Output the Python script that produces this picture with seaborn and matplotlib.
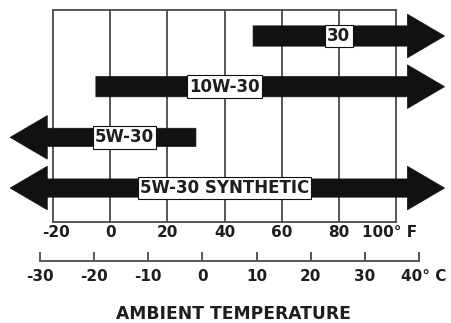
import matplotlib
matplotlib.use("Agg")
import matplotlib.pyplot as plt
import matplotlib.transforms as mtransforms
from matplotlib.patches import Polygon
import seaborn as sns

# ---- data ----
grades = ["30", "10W-30", "5W-30", "5W-30 SYNTHETIC"]
range_low_f = [50, -5, -35, -35]      # left end of each arrow (deg F)
range_high_f = [117, 117, 30, 117]    # right end of each arrow (deg F)
open_low = [False, False, True, True]  # arrow head on the left
open_high = [True, True, False, True]  # arrow head on the right
f_ticks = [-20, 0, 20, 40, 60, 80, 100]
f_labels = ["-20", "0", "20", "40", "60", "80", "100° F"]
c_ticks = [-30, -20, -10, 0, 10, 20, 30, 40]
c_labels = ["-30", "-20", "-10", "0", "10", "20", "30", "40° C"]
x_title = "AMBIENT TEMPERATURE"

# ---- style ----
sns.set_theme(style="white")
plt.rcParams["font.family"] = ["DejaVu Sans"]
plt.rcParams["font.weight"] = "bold"

W, H = 451, 323
fig = plt.figure(figsize=(W / 100, H / 100), dpi=100)
fig.patch.set_facecolor("white")

line_c = "#4a4a4a"
bar_c = "#111111"
text_c = "#1e1e1e"

# main axes (deg F)
ax = fig.add_axes([53 / W, (H - 222) / H, (396 - 53) / W, (222 - 10) / H])
ax.set_xlim(-20, 100)
ax.set_ylim(3.67, -0.513)
ax.set_facecolor("white")
for s in ax.spines.values():
    s.set_visible(True)
    s.set_color(line_c)
    s.set_linewidth(1.3)
for t in f_ticks[1:-1]:
    ax.axvline(t, color=line_c, lw=1.3, zorder=1)

ax.set_yticks([])
ax.set_xticks(f_ticks)
ax.set_xticklabels(f_labels, fontsize=11, fontweight="bold", color=text_c)
ax.tick_params(axis="x", length=0, pad=2.5)
lbls = ax.get_xticklabels()
lbls[-1].set_transform(lbls[-1].get_transform() +
                       mtransforms.ScaledTranslation(-6 / 100, 0, fig.dpi_scale_trans))
lbls[0].set_transform(lbls[0].get_transform() +
                      mtransforms.ScaledTranslation(3 / 100, 0, fig.dpi_scale_trans))

head_len = 13.0
bar_h = [0.40, 0.40, 0.36, 0.36]
head_h = 0.86
label_x = [80, 40, 5, 40]

for i, g in enumerate(grades):
    lo, hi = range_low_f[i], range_high_f[i]
    hb = bar_h[i] / 2
    hh = head_h / 2
    if open_low[i]:
        bl = lo + head_len
        left_pts = [(bl, i - hb), (bl, i - hh), (lo, i), (bl, i + hh), (bl, i + hb)]
    else:
        left_pts = [(lo, i - hb), (lo, i + hb)]
    if open_high[i]:
        br = hi - head_len
        right_pts = [(br, i + hb), (br, i + hh), (hi, i), (br, i - hh), (br, i - hb)]
    else:
        right_pts = [(hi, i + hb), (hi, i - hb)]
    pts = left_pts + right_pts
    poly = Polygon(pts, closed=True, facecolor=bar_c, edgecolor=bar_c, lw=0.5,
                   clip_on=False, zorder=3)
    ax.add_patch(poly)
    ax.text(label_x[i], i, g, ha="center", va="center", fontsize=12,
            fontweight="bold", color=text_c, zorder=5,
            bbox=dict(boxstyle="square,pad=0.14", fc="white", ec=bar_c, lw=0.8))

# Celsius axis
ax2 = fig.add_axes([40 / W, (H - 261) / H, (419 - 40) / W, 0.0001])
ax2.set_xlim(-30, 40)
ax2.set_yticks([])
ax2.patch.set_visible(False)
for k in ["top", "left", "right"]:
    ax2.spines[k].set_visible(False)
ax2.spines["bottom"].set_color(line_c)
ax2.spines["bottom"].set_linewidth(1.3)
ax2.set_xticks(c_ticks)
ax2.set_xticklabels(c_labels, fontsize=11, fontweight="bold", color=text_c)
ax2.tick_params(axis="x", direction="in", length=6.5, width=1.3, color=line_c,
                pad=6, bottom=True)
l2 = ax2.get_xticklabels()
l2[-1].set_transform(l2[-1].get_transform() +
                     mtransforms.ScaledTranslation(5 / 100, 0, fig.dpi_scale_trans))

fig.text(233 / W, 1 - 314 / H, x_title, ha="center", va="center",
         fontsize=12.3, fontweight="bold", color=text_c)

fig.savefig("out.png", dpi=100, facecolor="white")
